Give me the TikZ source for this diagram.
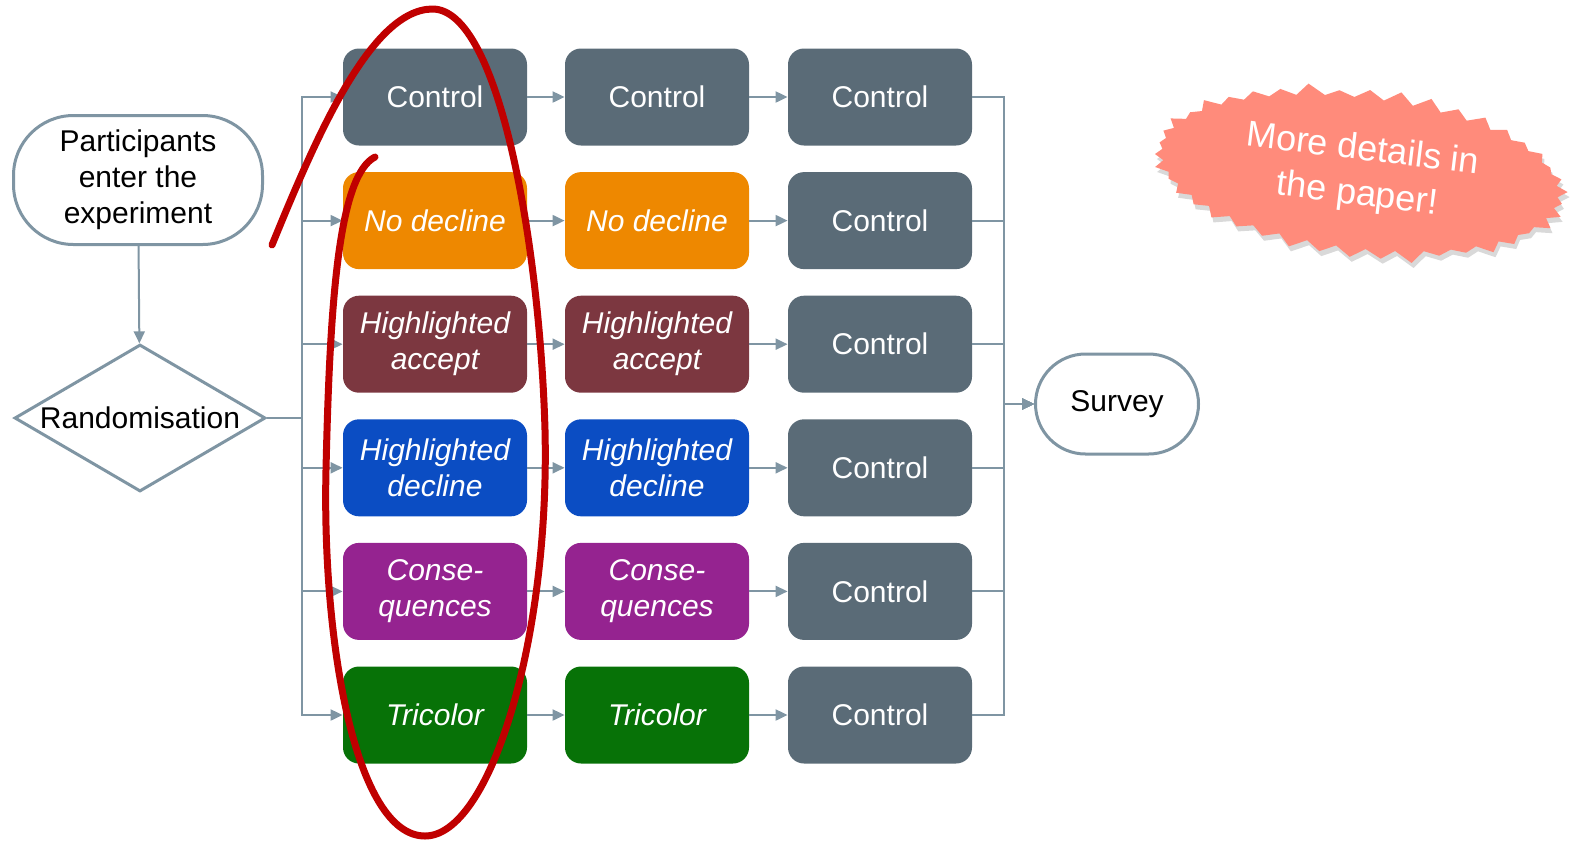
\documentclass[tikz,border=0pt]{standalone}
\usepackage{fontspec}
\setmainfont{Liberation Sans}
\usetikzlibrary{arrows.meta, shapes.geometric, shapes.symbols, shadows}
\definecolor{expLine}{HTML}{7F95A3}
\definecolor{expGrey}{HTML}{5A6B77}
\definecolor{expOrange}{HTML}{EE8800}
\definecolor{expRed}{HTML}{7C3740}
\definecolor{expBlue}{HTML}{0B4DC3}
\definecolor{expPurple}{HTML}{952390}
\definecolor{expGreen}{HTML}{077207}
\definecolor{expMark}{HTML}{C00000}
\definecolor{expBurst}{HTML}{FF8B7B}
\newcommand{\armfont}{\fontsize{15}{18}\selectfont}

\tikzset{
  flow/.style={draw=expLine, line width=1pt, -{Triangle[length=6pt, width=5.5pt]}},
  arm/.style={rectangle, rounded corners=8pt, minimum width=92pt, minimum height=48.5pt,
    text=white, align=center, font=\armfont},
  term/.style={rectangle, draw=expLine, line width=1.5pt, fill=white, align=center,
    font=\armfont},
  burst/.style={starburst, starburst points=42, starburst point height=6pt,
    fill=expBurst, text=white, align=center, inner sep=0pt,
    minimum width=211pt, minimum height=87pt, font=\fontsize{18}{22.5}\selectfont,
    drop shadow={shadow xshift=1pt, shadow yshift=-2.5pt, opacity=0.3}}
}

\begin{document}
\begin{tikzpicture}[x=0.5pt, y=-0.5pt]
  \useasboundingbox (0,0) rectangle (1574,842);

  \node[term, minimum width=124.5pt, minimum height=64.5pt, rounded corners=30pt] (enter) at (138,180) {Participants\\enter the\\experiment};
  \node[diamond, draw=expLine, line width=1.5pt, minimum width=125.5pt, minimum height=73.5pt, inner sep=0pt,
    label={[font=\armfont]center:Randomisation}] (rand) at (140,418) {};
  \node[term, minimum width=81.5pt, minimum height=50pt, rounded corners=25pt] (survey) at (1117,404) {Survey};
  \coordinate (busL) at (302,418);
  \coordinate (busR) at (1004,404);
  \draw[flow] (enter) -- (rand);

  \foreach \txt/\col/\look [count=\i] in {
      Control/expGrey/\upshape, No decline/expOrange/\itshape,
      Highlighted\\accept/expRed/\itshape, Highlighted\\decline/expBlue/\itshape,
      Conse-\\quences/expPurple/\itshape, Tricolor/expGreen/\itshape} {
    \node[arm, fill=\col, font=\armfont\look] (c1-\i) at (435, 97+123.6*\i-123.6) {\txt};
    \node[arm, fill=\col, font=\armfont\look] (c2-\i) at (657, 97+123.6*\i-123.6) {\txt};
    \node[arm, fill=expGrey] (c3-\i) at (880, 97+123.6*\i-123.6) {Control};
    \draw[flow] (rand.east) -- (busL) |- (c1-\i.west);
    \draw[flow] (c1-\i) -- (c2-\i);
    \draw[flow] (c2-\i) -- (c3-\i);
    \draw[flow] (c3-\i) -| (busR) -- (survey);
  }

  \node[burst, rotate=-7] (note) at (1360,173) {More details in\\the paper!};

  \draw[expMark, line width=3.5pt, line cap=round]
    (272,245) .. controls (315,140) and (370,10) .. (432,9)
    .. controls (500,8) and (540,250) .. (545,430)
    .. controls (550,640) and (490,836) .. (425,836)
    .. controls (355,836) and (322,640) .. (326,470)
    .. controls (330,290) and (340,175) .. (375,157);
\end{tikzpicture}
\end{document}
